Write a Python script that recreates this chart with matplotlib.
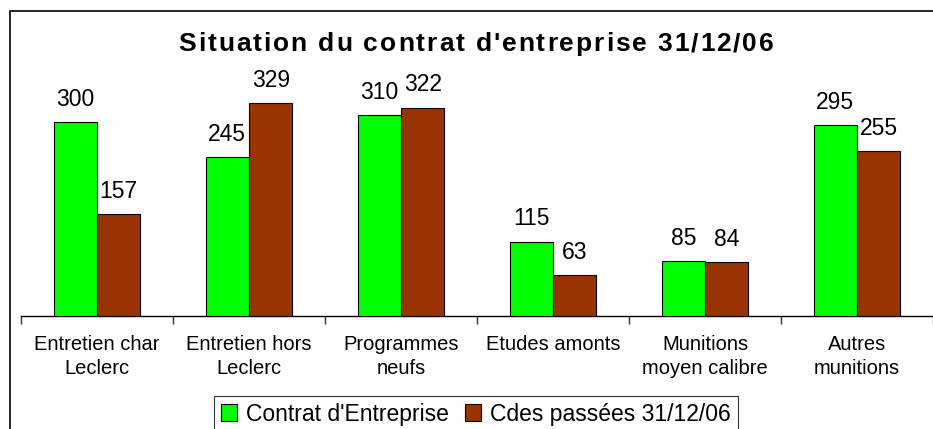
import matplotlib
matplotlib.use("Agg")
import matplotlib.pyplot as plt
from matplotlib.patches import Rectangle
from matplotlib.font_manager import FontProperties
import numpy as np

categories = ["Entretien char\nLeclerc", "Entretien hors\nLeclerc", "Programmes\nneufs",
              "Etudes amonts", "Munitions\nmoyen calibre", "Autres\nmunitions"]
contrat = [300, 245, 310, 115, 85, 295]
cdes = [157, 329, 322, 63, 84, 255]
series_names = ["Contrat d'Entreprise", "Cdes passées 31/12/06"]
title = "Situation du contrat d'entreprise 31/12/06"

green = "#00ff00"
brown = "#993300"

plt.rcParams['font.family'] = ['Liberation Sans', 'DejaVu Sans']

W, H = 933, 429
fig = plt.figure(figsize=(W / 100, H / 100), dpi=100)
ax = fig.add_axes([21 / W, (H - 316) / H, 912 / W, 246 / H])

x = np.arange(len(categories))
bw = 0.286
b1 = ax.bar(x - bw / 2, contrat, bw, color=green, edgecolor="black", linewidth=0.8, zorder=3)
b2 = ax.bar(x + bw / 2, cdes, bw, color=brown, edgecolor="black", linewidth=0.8, zorder=3)

for bars, vals in ((b1, contrat), (b2, cdes)):
    for rect, v in zip(bars, vals):
        ax.annotate(str(v), (rect.get_x() + rect.get_width() / 2, v),
                    xytext=(0, 8), textcoords="offset points",
                    ha="center", va="bottom", fontsize=16.5)

ax.set_xlim(-0.5, len(categories) - 0.5)
ax.set_ylim(0, 380)
ax.set_yticks([])
for s in ("left", "right", "top"):
    ax.spines[s].set_visible(False)
ax.spines["bottom"].set_linewidth(1.0)

# ticks between categories, labels at centres
ax.set_xticks(np.arange(len(categories) + 1) - 0.5)
ax.set_xticklabels([])
ax.tick_params(axis="x", which="major", length=6, width=1.0, direction="out", color="#333333")
ax.set_xticks(x, minor=True)
ax.set_xticklabels(categories, minor=True, fontsize=14.5, linespacing=1.3)
ax.tick_params(axis="x", which="minor", length=0, pad=14)

# title with wider letter spacing, drawn char by char
fp = FontProperties(family=['Liberation Sans', 'DejaVu Sans'], weight="bold", size=19)
renderer = fig.canvas.get_renderer()


def text_w(s):
    w, _, _ = renderer.get_text_width_height_descent(s, fp, ismath=False)
    return w


ref_w = text_w("l")
extra = 1.9
positions = [text_w(title[:i] + "l") - ref_w + i * extra for i in range(len(title))]
total = text_w(title) + (len(title) - 1) * extra
x0 = 476 - total / 2
for ch, p in zip(title, positions):
    if ch != " ":
        fig.text((x0 + p) / W, 1 - 44 / H, ch, ha="left", va="center",
                 fontproperties=fp)

# outer frame (clipped at right/bottom in the original)
fig.patches.append(Rectangle((10 / W, -0.1), 1.2, 1 - 11 / H + 0.1,
                             transform=fig.transFigure, fill=False,
                             edgecolor="black", linewidth=1.2))

handles = [Rectangle((0, 0), 1, 1, facecolor=green, edgecolor="black", linewidth=0.8),
           Rectangle((0, 0), 1, 1, facecolor=brown, edgecolor="black", linewidth=0.8)]
leg = fig.legend(handles, series_names, loc="center", bbox_to_anchor=(476 / W, 1 - 414 / H),
                 ncol=2, fontsize=16.5, frameon=True, fancybox=False,
                 handlelength=0.7, handleheight=0.7, handletextpad=0.4,
                 columnspacing=0.7, borderpad=0.3, borderaxespad=0)
leg.get_frame().set_edgecolor("black")
leg.get_frame().set_linewidth(0.8)

fig.savefig("out.png", dpi=100)
